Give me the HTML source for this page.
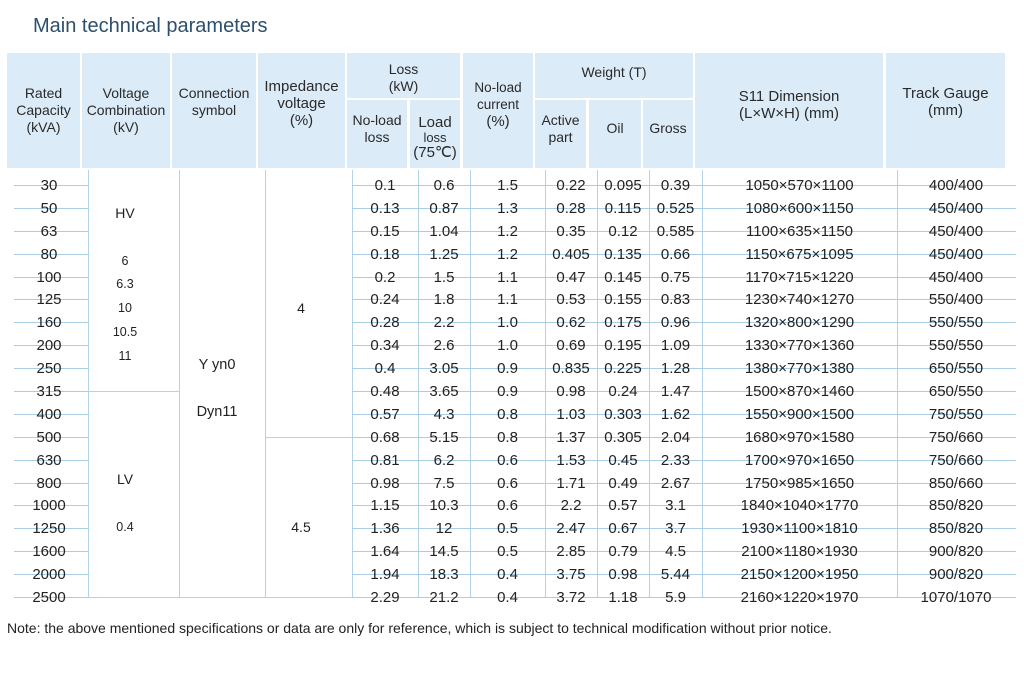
<!DOCTYPE html>
<html><head><meta charset="utf-8"><style>
body{margin:0;width:1024px;height:684px;background:#fff;position:relative;overflow:hidden;font-family:"Liberation Sans",Arial,sans-serif;color:#222}
.t{position:absolute;left:33px;top:15px;font-size:20px;color:#2d4f6e}
.h{position:absolute;background:#dcebf8;display:flex;align-items:center;justify-content:center;text-align:center;font-size:14px;line-height:17px;color:#2a2a2a}
.v{position:absolute;top:170px;height:428px;width:1px;background:#b3d3e8}
.ln{position:absolute;height:1px;background:#b3d3e8}
.r{position:absolute;left:0;width:1024px;height:23px;font-size:15px}
.r span{position:absolute;top:4px;text-align:center;line-height:17px}
.r .a{left:10px;width:78px}.r .b{left:352px;width:66px}.r .c{left:418px;width:52px}.r .d{left:470px;width:75px}
.r .e{left:545px;width:52px}.r .f{left:597px;width:52px}.r .g{left:649px;width:53px}.r .i{left:702px;width:195px}.r .j{left:897px;width:118px}
.r i{position:absolute;top:12px;height:1px;background:#a9cde3}
.m{position:absolute;font-size:14px;text-align:center;width:90px}
.s{position:absolute;font-size:12.5px;text-align:center;width:90px;left:80px}
.n{position:absolute;left:7px;top:620px;font-size:14px}
</style></head><body>
<div class="t">Main technical parameters</div>
<div class="h" style="left:7px;top:53px;width:73px;height:115px">Rated<br>Capacity<br>(kVA)</div>
<div class="h" style="left:82px;top:53px;width:88px;height:115px">Voltage<br>Combination<br>(kV)</div>
<div class="h" style="left:172px;top:53px;width:84px;height:115px;align-items:flex-start;padding-top:0"><div style="margin-top:32px">Connection<br>symbol</div></div>
<div class="h" style="left:258px;top:53px;width:87px;height:115px;font-size:15px"><div style="margin-top:-15px">Impedance<br>voltage<br>(%)</div></div>
<div class="h" style="left:347px;top:53px;width:113px;height:45px"><div style="margin-top:5px">Loss<br>(kW)</div></div>
<div class="h" style="left:347px;top:100px;width:60px;height:68px"><div style="margin-top:-10px">No-load<br>loss</div></div>
<div class="h" style="left:410px;top:100px;width:50px;height:68px;font-size:15px;line-height:15px"><div style="margin-top:6px">Load<br><span style="font-size:13px">loss</span><br>(75℃)</div></div>
<div class="h" style="left:463px;top:53px;width:70px;height:115px;font-size:13.5px"><div style="margin-top:-12px">No-load<br>current<br><span style="font-size:15px">(%)</span></div></div>
<div class="h" style="left:535px;top:53px;width:158px;height:45px"><div style="margin-top:-6px">Weight (T)</div></div>
<div class="h" style="left:535px;top:100px;width:51px;height:68px"><div style="margin-top:-10px">Active<br>part</div></div>
<div class="h" style="left:589px;top:100px;width:52px;height:68px"><div style="margin-top:-12px">Oil</div></div>
<div class="h" style="left:643px;top:100px;width:50px;height:68px"><div style="margin-top:-12px">Gross</div></div>
<div class="h" style="left:695px;top:53px;width:188px;height:115px;font-size:15px"><div style="margin-top:-12px">S11 Dimension<br>(L×W×H) (mm)</div></div>
<div class="h" style="left:886px;top:53px;width:119px;height:115px;font-size:15px"><div style="margin-top:-18px">Track Gauge<br>(mm)</div></div>

<div class="v" style="left:88px"></div><div class="v" style="left:179px"></div><div class="v" style="left:265px"></div><div class="v" style="left:352px"></div><div class="v" style="left:418px"></div><div class="v" style="left:470px"></div><div class="v" style="left:545px"></div><div class="v" style="left:597px"></div><div class="v" style="left:649px"></div><div class="v" style="left:702px"></div><div class="v" style="left:897px"></div>
<div class="ln" style="left:88px;width:91px;top:391px"></div>
<div class="ln" style="left:265px;width:87px;top:437px"></div>
<div class="ln" style="left:88px;width:264px;top:597px"></div>

<div class="m" style="left:80px;top:205px">HV</div>
<div class="s" style="top:254px">6</div><div class="s" style="top:277px">6.3</div><div class="s" style="top:301px">10</div><div class="s" style="top:325px">10.5</div><div class="s" style="top:349px">11</div>
<div class="m" style="left:80px;top:471px">LV</div><div class="s" style="top:520px">0.4</div>
<div class="m" style="left:172px;top:357px;font-size:14.5px">Y yn0</div>
<div class="m" style="left:172px;top:404px;font-size:14.5px">Dyn11</div>
<div class="m" style="left:256px;top:300px">4</div>
<div class="m" style="left:256px;top:519px">4.5</div>

<div class="r" style="top:173px"><i style="left:14px;width:74px"></i><i style="left:352px;width:664px"></i><span class="a">30</span><span class="b">0.1</span><span class="c">0.6</span><span class="d">1.5</span><span class="e">0.22</span><span class="f">0.095</span><span class="g">0.39</span><span class="i">1050×570×1100</span><span class="j">400/400</span></div>
<div class="r" style="top:196px"><i style="left:14px;width:74px"></i><i style="left:352px;width:664px"></i><span class="a">50</span><span class="b">0.13</span><span class="c">0.87</span><span class="d">1.3</span><span class="e">0.28</span><span class="f">0.115</span><span class="g">0.525</span><span class="i">1080×600×1150</span><span class="j">450/400</span></div>
<div class="r" style="top:219px"><i style="left:14px;width:74px"></i><i style="left:352px;width:664px"></i><span class="a">63</span><span class="b">0.15</span><span class="c">1.04</span><span class="d">1.2</span><span class="e">0.35</span><span class="f">0.12</span><span class="g">0.585</span><span class="i">1100×635×1150</span><span class="j">450/400</span></div>
<div class="r" style="top:242px"><i style="left:14px;width:74px"></i><i style="left:352px;width:664px"></i><span class="a">80</span><span class="b">0.18</span><span class="c">1.25</span><span class="d">1.2</span><span class="e">0.405</span><span class="f">0.135</span><span class="g">0.66</span><span class="i">1150×675×1095</span><span class="j">450/400</span></div>
<div class="r" style="top:265px"><i style="left:14px;width:74px"></i><i style="left:352px;width:664px"></i><span class="a">100</span><span class="b">0.2</span><span class="c">1.5</span><span class="d">1.1</span><span class="e">0.47</span><span class="f">0.145</span><span class="g">0.75</span><span class="i">1170×715×1220</span><span class="j">450/400</span></div>
<div class="r" style="top:287px"><i style="left:14px;width:74px"></i><i style="left:352px;width:664px"></i><span class="a">125</span><span class="b">0.24</span><span class="c">1.8</span><span class="d">1.1</span><span class="e">0.53</span><span class="f">0.155</span><span class="g">0.83</span><span class="i">1230×740×1270</span><span class="j">550/400</span></div>
<div class="r" style="top:310px"><i style="left:14px;width:74px"></i><i style="left:352px;width:664px"></i><span class="a">160</span><span class="b">0.28</span><span class="c">2.2</span><span class="d">1.0</span><span class="e">0.62</span><span class="f">0.175</span><span class="g">0.96</span><span class="i">1320×800×1290</span><span class="j">550/550</span></div>
<div class="r" style="top:333px"><i style="left:14px;width:74px"></i><i style="left:352px;width:664px"></i><span class="a">200</span><span class="b">0.34</span><span class="c">2.6</span><span class="d">1.0</span><span class="e">0.69</span><span class="f">0.195</span><span class="g">1.09</span><span class="i">1330×770×1360</span><span class="j">550/550</span></div>
<div class="r" style="top:356px"><i style="left:14px;width:74px"></i><i style="left:352px;width:664px"></i><span class="a">250</span><span class="b">0.4</span><span class="c">3.05</span><span class="d">0.9</span><span class="e">0.835</span><span class="f">0.225</span><span class="g">1.28</span><span class="i">1380×770×1380</span><span class="j">650/550</span></div>
<div class="r" style="top:379px"><i style="left:14px;width:74px"></i><i style="left:352px;width:664px"></i><span class="a">315</span><span class="b">0.48</span><span class="c">3.65</span><span class="d">0.9</span><span class="e">0.98</span><span class="f">0.24</span><span class="g">1.47</span><span class="i">1500×870×1460</span><span class="j">650/550</span></div>
<div class="r" style="top:402px"><i style="left:14px;width:74px"></i><i style="left:352px;width:664px"></i><span class="a">400</span><span class="b">0.57</span><span class="c">4.3</span><span class="d">0.8</span><span class="e">1.03</span><span class="f">0.303</span><span class="g">1.62</span><span class="i">1550×900×1500</span><span class="j">750/550</span></div>
<div class="r" style="top:425px"><i style="left:14px;width:74px"></i><i style="left:352px;width:664px"></i><span class="a">500</span><span class="b">0.68</span><span class="c">5.15</span><span class="d">0.8</span><span class="e">1.37</span><span class="f">0.305</span><span class="g">2.04</span><span class="i">1680×970×1580</span><span class="j">750/660</span></div>
<div class="r" style="top:448px"><i style="left:14px;width:74px"></i><i style="left:352px;width:664px"></i><span class="a">630</span><span class="b">0.81</span><span class="c">6.2</span><span class="d">0.6</span><span class="e">1.53</span><span class="f">0.45</span><span class="g">2.33</span><span class="i">1700×970×1650</span><span class="j">750/660</span></div>
<div class="r" style="top:471px"><i style="left:14px;width:74px"></i><i style="left:352px;width:664px"></i><span class="a">800</span><span class="b">0.98</span><span class="c">7.5</span><span class="d">0.6</span><span class="e">1.71</span><span class="f">0.49</span><span class="g">2.67</span><span class="i">1750×985×1650</span><span class="j">850/660</span></div>
<div class="r" style="top:493px"><i style="left:14px;width:74px"></i><i style="left:352px;width:664px"></i><span class="a">1000</span><span class="b">1.15</span><span class="c">10.3</span><span class="d">0.6</span><span class="e">2.2</span><span class="f">0.57</span><span class="g">3.1</span><span class="i">1840×1040×1770</span><span class="j">850/820</span></div>
<div class="r" style="top:516px"><i style="left:14px;width:74px"></i><i style="left:352px;width:664px"></i><span class="a">1250</span><span class="b">1.36</span><span class="c">12</span><span class="d">0.5</span><span class="e">2.47</span><span class="f">0.67</span><span class="g">3.7</span><span class="i">1930×1100×1810</span><span class="j">850/820</span></div>
<div class="r" style="top:539px"><i style="left:14px;width:74px"></i><i style="left:352px;width:664px"></i><span class="a">1600</span><span class="b">1.64</span><span class="c">14.5</span><span class="d">0.5</span><span class="e">2.85</span><span class="f">0.79</span><span class="g">4.5</span><span class="i">2100×1180×1930</span><span class="j">900/820</span></div>
<div class="r" style="top:562px"><i style="left:14px;width:74px"></i><i style="left:352px;width:664px"></i><span class="a">2000</span><span class="b">1.94</span><span class="c">18.3</span><span class="d">0.4</span><span class="e">3.75</span><span class="f">0.98</span><span class="g">5.44</span><span class="i">2150×1200×1950</span><span class="j">900/820</span></div>
<div class="r" style="top:585px"><i style="left:14px;width:74px"></i><i style="left:352px;width:664px"></i><span class="a">2500</span><span class="b">2.29</span><span class="c">21.2</span><span class="d">0.4</span><span class="e">3.72</span><span class="f">1.18</span><span class="g">5.9</span><span class="i">2160×1220×1970</span><span class="j">1070/1070</span></div>

<div class="n">Note: the above mentioned specifications or data are only for reference, which is subject to technical modification without prior notice.</div>
</body></html>
